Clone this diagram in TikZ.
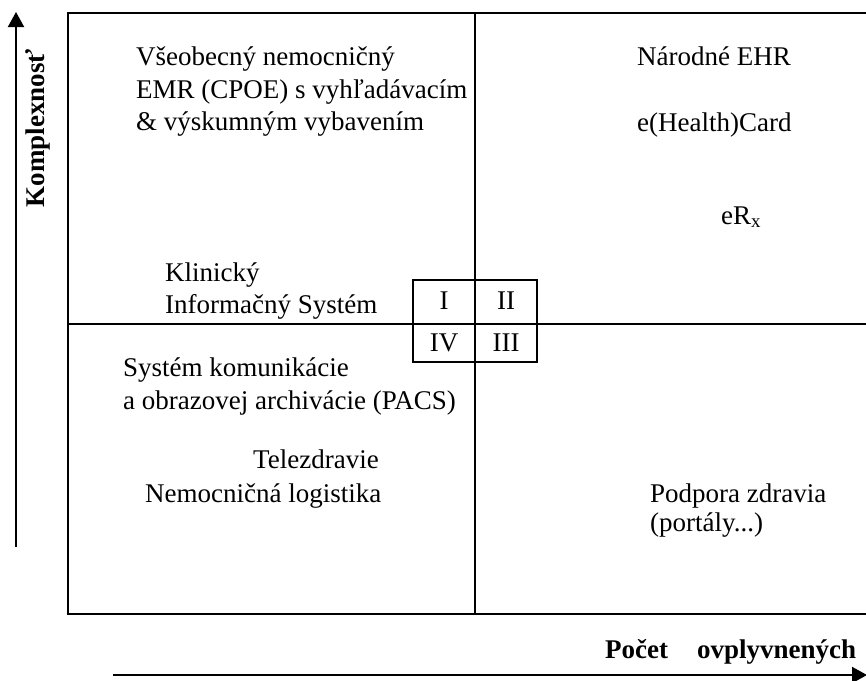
\documentclass[tikz,border=0pt]{standalone}
\usepackage{fontspec}
\setmainfont{Liberation Serif}
\usetikzlibrary{arrows.meta}
\begin{document}
\begin{tikzpicture}[x=1pt,y=-1pt,
  txt/.style={anchor=base west,inner sep=0pt,font=\fontsize{27}{31}\selectfont},
  btxt/.style={txt,font=\fontsize{27}{31}\selectfont\bfseries},
  cell/.style={anchor=center,inner sep=0pt,font=\fontsize{27}{31}\selectfont},
  frame/.style={line width=1.5pt},
  axis/.style={line width=2pt,-{Triangle[width=16pt,length=15pt]}}]
\useasboundingbox (0,0) rectangle (866,680);
% outer frame and quadrant lines
\coordinate (tl) at (68,13);
\coordinate (br) at (872,614);
\draw[frame] (tl) rectangle (br);
\coordinate (vt) at (475,13);
\coordinate (vb) at (475,614);
\coordinate (hl) at (68,324);
\coordinate (hr) at (872,324);
\draw[frame] (vt) -- (vb);
\draw[frame] (hl) -- (hr);
% small box
\coordinate (sbtl) at (413,280);
\coordinate (sbbr) at (537,362);
\draw[frame] (sbtl) rectangle (sbbr);
\node[cell] (c1) at (444,301) {I};
\node[cell] (c2) at (506,301) {II};
\node[cell] (c4) at (444,343) {IV};
\node[cell] (c3) at (506,343) {III};
% axes
\coordinate (ya) at (16,547);
\coordinate (yb) at (16,12);
\draw[axis] (ya) -- (yb);
\coordinate (xa) at (113,675);
\coordinate (xb) at (867,675);
\draw[axis] (xa) -- (xb);
\node[btxt,anchor=base,rotate=90] (ylab) at (44,128) {Komplexnosť};
\node[btxt] (xlab1) at (605,658) {Počet};
\node[btxt] (xlab2) at (697,658) {ovplyvnených};
% quadrant texts
\node[txt] (v1) at (136,65) {Všeobecný nemocničný};
\node[txt] (v2) at (136,98) {EMR (CPOE) s vyhľadávacím};
\node[txt] (v3) at (136,130) {\& výskumným vybavením};
\node[txt] (n1) at (637,65) {Národné EHR};
\node[txt] (n2) at (637,131) {e(Health)Card};
\node[txt] (n3) at (721,224) {eR\textsubscript{x}};
\node[txt] (k1) at (165,281) {Klinický};
\node[txt] (k2) at (165,313) {Informačný Systém};
\node[txt] (s1) at (123,376) {Systém komunikácie};
\node[txt] (s2) at (123,409) {a obrazovej archivácie (PACS)};
\node[txt] (t1) at (253,468) {Telezdravie};
\node[txt] (l1) at (145,502) {Nemocničná logistika};
\node[txt] (p1) at (650,502) {Podpora zdravia};
\node[txt] (p2) at (650,531) {(portály...)};
\end{tikzpicture}
\end{document}
